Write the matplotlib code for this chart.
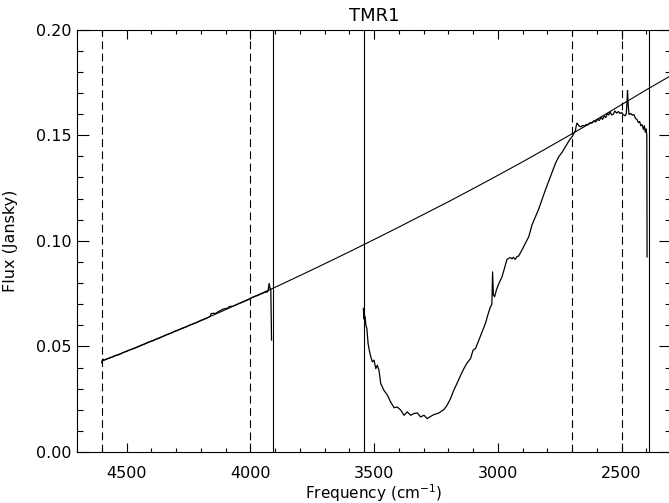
import numpy as np
import matplotlib
matplotlib.use('Agg')
from matplotlib import pyplot as plt
from matplotlib.ticker import MultipleLocator, FormatStrFormatter

# continuum fit
cont_x = [4600, 4500, 4400, 4300, 4200, 4100, 4000, 3900, 3800, 3700, 3600, 3500,
          3400, 3300, 3200, 3100, 3000, 2900, 2800, 2700, 2600, 2500, 2400, 2300]
cont_y = [0.0430, 0.0477, 0.0525, 0.0573, 0.0622, 0.0674, 0.0727, 0.0780, 0.0835,
          0.0891, 0.0948, 0.1006, 0.1065, 0.1125, 0.1185, 0.1247, 0.1310, 0.1374,
          0.1440, 0.1507, 0.1575, 0.1645, 0.1715, 0.1783]

# spectrum, first window
spec1_x = [4600, 4596, 4590, 4575, 4560, 4545, 4530, 4515, 4500, 4485, 4470, 4455,
           4440, 4425, 4410, 4395, 4380, 4365, 4350, 4335, 4320, 4305, 4290, 4275,
           4260, 4245, 4230, 4215, 4200, 4185, 4170, 4162, 4158, 4150, 4140, 4130,
           4120, 4110, 4100, 4090, 4085, 4078, 4070, 4060, 4050, 4040, 4030, 4020,
           4010, 4000, 3990, 3980, 3970, 3960, 3950, 3940, 3932, 3928, 3924, 3920,
           3917, 3914]
spec1_y = [0.0422, 0.0440, 0.0436, 0.0443, 0.0449, 0.0457, 0.0461, 0.0470, 0.0477,
           0.0484, 0.0490, 0.0497, 0.0505, 0.0512, 0.0521, 0.0526, 0.0534, 0.0541,
           0.0549, 0.0557, 0.0563, 0.0572, 0.0578, 0.0586, 0.0592, 0.0601, 0.0607,
           0.0614, 0.0623, 0.0629, 0.0637, 0.0642, 0.0655, 0.0657, 0.0656, 0.0664,
           0.0670, 0.0677, 0.0679, 0.0682, 0.0689, 0.0690, 0.0690, 0.0696, 0.0701,
           0.0706, 0.0710, 0.0716, 0.0720, 0.0728, 0.0733, 0.0738, 0.0741, 0.0747,
           0.0752, 0.0757, 0.0757, 0.0763, 0.0798, 0.0775, 0.0768, 0.0530]

# spectrum, second window
spec2_x = [3543, 3541, 3539, 3536, 3533, 3529, 3524, 3519, 3513, 3507, 3500, 3493,
           3487, 3480, 3473, 3460, 3446, 3433, 3419, 3406, 3392, 3379, 3366, 3352,
           3339, 3325, 3312, 3298, 3285, 3271, 3258, 3238, 3218, 3205, 3191, 3178,
           3164, 3150, 3137, 3124, 3110, 3100, 3090, 3077, 3063, 3050, 3040, 3030,
           3024, 3021, 3018, 3013, 3005, 2995, 2983, 2973, 2963, 2955, 2950,
           2943, 2937, 2930, 2923, 2916, 2903, 2889, 2875, 2862, 2848, 2835, 2822,
           2808, 2795, 2780, 2767, 2754, 2740, 2727, 2710, 2700, 2694, 2687, 2683,
           2680, 2673, 2665, 2657, 2650, 2642, 2635, 2627, 2620, 2612, 2605, 2597,
           2590, 2583, 2577, 2570, 2564, 2557, 2552, 2546, 2540, 2533, 2527, 2520,
           2513, 2506, 2500, 2493, 2486, 2481, 2478, 2476, 2473, 2470, 2463, 2456,
           2450, 2444, 2438, 2432, 2427, 2422, 2417, 2412, 2408, 2404, 2401, 2398,
           2397]
spec2_y = [0.0680, 0.0630, 0.0648, 0.0640, 0.0600, 0.0585, 0.0514, 0.0480, 0.0450,
           0.0427, 0.0435, 0.0395, 0.0411, 0.0387, 0.0324, 0.0292, 0.0269, 0.0237,
           0.0210, 0.0213, 0.0198, 0.0174, 0.0190, 0.0174, 0.0182, 0.0185, 0.0166,
           0.0174, 0.0158, 0.0169, 0.0177, 0.0185, 0.0201, 0.0221, 0.0253, 0.0292,
           0.0327, 0.0364, 0.0395, 0.0422, 0.0443, 0.0482, 0.0490, 0.0529, 0.0570,
           0.0609, 0.0650, 0.0687, 0.0700, 0.0853, 0.0745, 0.0735, 0.0770,
           0.0800, 0.0829, 0.0870, 0.0912, 0.0918, 0.0921, 0.0915, 0.0922, 0.0912,
           0.0925, 0.0928, 0.0955, 0.0988, 0.1019, 0.1075, 0.1114, 0.1150, 0.1193,
           0.1240, 0.1280, 0.1325, 0.1367, 0.1398, 0.1420, 0.1445, 0.1478, 0.1493,
           0.1505, 0.1520, 0.1545, 0.1558, 0.1545, 0.1540, 0.1546, 0.1544, 0.1551,
           0.1550, 0.1560, 0.1557, 0.1568, 0.1563, 0.1575, 0.1570, 0.1585, 0.1575,
           0.1592, 0.1584, 0.1603, 0.1596, 0.1610, 0.1596, 0.1600, 0.1615, 0.1605,
           0.1612, 0.1603, 0.1608, 0.1598, 0.1592, 0.1600, 0.1660, 0.1712, 0.1640,
           0.1598, 0.1603, 0.1595, 0.1598, 0.1580, 0.1575, 0.1560, 0.1565, 0.1545,
           0.1550, 0.1528, 0.1545, 0.1515, 0.1530, 0.1500, 0.0924]

dashed_at = [4600, 4000, 2700, 2500]
solid_at = [3910, 3542, 2390]


def main():
    plt.rcParams['font.family'] = 'DejaVu Sans'
    plt.rcParams['font.size'] = 11.5

    fig = plt.figure(figsize=(6.69, 5.03), dpi=100)
    ax = fig.add_axes([0.1151, 0.1014, 0.888, 0.8396])

    for xv in dashed_at:
        ax.axvline(xv, color='black', lw=0.8, linestyle=(0, (7, 4)))
    for xv in solid_at:
        ax.axvline(xv, color='black', lw=0.8)

    ax.plot(cont_x, cont_y, color='black', lw=0.8)
    ax.plot(spec1_x, spec1_y, color='black', lw=0.9)
    ax.plot(spec2_x, spec2_y, color='black', lw=0.9)

    ax.set_xlim(4700, 2300)
    ax.set_ylim(0, 0.20)
    ax.xaxis.set_major_locator(MultipleLocator(500))
    ax.xaxis.set_minor_locator(MultipleLocator(100))
    ax.yaxis.set_major_locator(MultipleLocator(0.05))
    ax.yaxis.set_minor_locator(MultipleLocator(0.01))
    ax.yaxis.set_major_formatter(FormatStrFormatter('%.2f'))

    ax.tick_params(which='both', direction='in', top=True, right=True, width=0.8)
    ax.tick_params(axis='x', which='major', length=6.5, pad=10)
    ax.tick_params(axis='x', which='minor', length=3)
    ax.tick_params(axis='y', which='major', length=8.5, pad=4)
    ax.tick_params(axis='y', which='minor', length=4.3)
    for sp in ax.spines.values():
        sp.set_linewidth(0.8)

    ax.set_title('TMR1', fontsize=13, pad=6)
    ax.set_xlabel('Frequency (cm$^{-1}$)', fontsize=11)
    ax.xaxis.set_label_coords(0.5, -0.072)
    ax.set_ylabel('Flux (Jansky)', labelpad=13)

    fig.savefig('out.png', dpi=100)


if __name__ == '__main__':
    main()
